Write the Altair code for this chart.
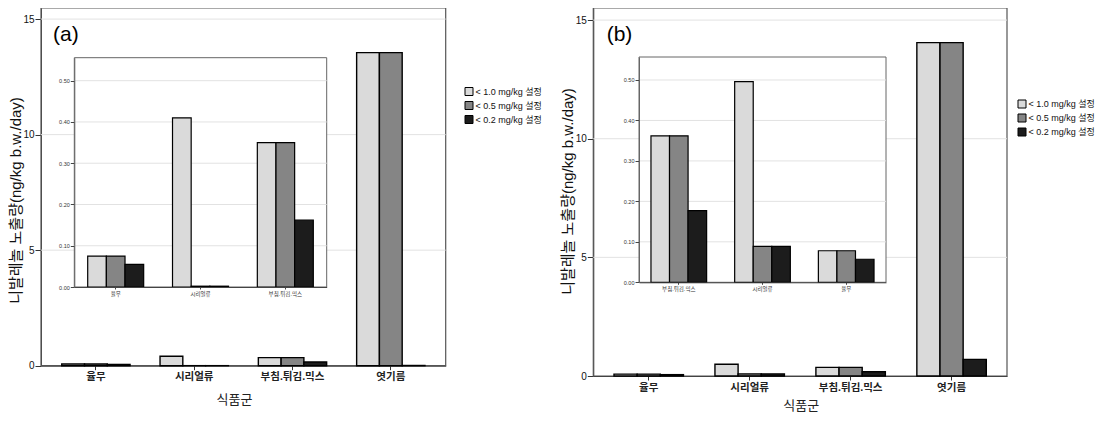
import altair as alt
import pandas as pd

# ---------------- data ----------------
categories = ["율무", "시리얼류", "부침.튀김.믹스", "엿기름"]
series = ["< 1.0 mg/kg 설정", "< 0.5 mg/kg 설정", "< 0.2 mg/kg 설정"]

a_s1 = [0.075, 0.410, 0.350, 13.55]
a_s2 = [0.075, 0.002, 0.350, 13.55]
a_s3 = [0.055, 0.002, 0.162, 0.01]

b_s1 = [0.078, 0.496, 0.362, 14.05]
b_s2 = [0.078, 0.089, 0.362, 14.05]
b_s3 = [0.057, 0.089, 0.177, 0.70]

inset_a_categories = ["율무", "시리얼류", "부침.튀김.믹스"]
inset_b_categories = ["부침.튀김.믹스", "시리얼류", "율무"]

main_ticks = [0, 5, 10, 15]
main_grid = [5, 10, 15]
inset_ticks = [0.0, 0.1, 0.2, 0.3, 0.4, 0.5]
inset_grid = [0.1, 0.2, 0.3, 0.4, 0.5]

panel_labels = ["(a)", "(b)"]
y_title = "니발레놀 노출량(ng/kg b.w./day)"
x_title = "식품군"

colors = ["#dadada", "#858585", "#1c1c1c"]
FONT = "Liberation Sans, Noto Sans CJK KR"


def make_df(s1, s2, s3, cats):
    rows = []
    for vals, s in zip([s1, s2, s3], series):
        for c, v in zip(categories, vals):
            if c in cats:
                rows.append({"cat": c, "series": s, "value": v})
    return pd.DataFrame(rows)


def bars(df, cats, xr, pi, po, ydom, yr, xaxis, yaxis, legend, sw):
    return alt.Chart(df).mark_bar(stroke="black", strokeWidth=sw).encode(
        x=alt.X("cat:N", scale=alt.Scale(domain=cats, range=xr, paddingInner=pi, paddingOuter=po), axis=xaxis),
        xOffset=alt.XOffset("series:N", scale=alt.Scale(domain=series, paddingInner=0, paddingOuter=0)),
        y=alt.Y("value:Q", scale=alt.Scale(domain=ydom, range=yr, nice=False, zero=True), axis=yaxis),
        color=alt.Color("series:N", scale=alt.Scale(domain=series, range=colors), legend=legend),
    )


def rect(x1, x2, y1, y2, stroke, sw, opacity):
    return alt.Chart(pd.DataFrame({"k": [0]})).mark_rect(
        fill="white", fillOpacity=opacity, stroke=stroke, strokeWidth=sw
    ).encode(x=alt.value(x1), x2=alt.value(x2), y=alt.value(y1), y2=alt.value(y2))


def grid(vals, ydom, yr, x1, x2, color):
    return alt.Chart(pd.DataFrame({"t": vals})).mark_rule(color=color, strokeWidth=1).encode(
        y=alt.Y("t:Q", scale=alt.Scale(domain=ydom, range=yr, nice=False), axis=None),
        x=alt.value(x1), x2=alt.value(x2),
    )


def label(text, x, y):
    return alt.Chart(pd.DataFrame({"label": [text]})).mark_text(
        fontSize=21, align="left", baseline="alphabetic", font=FONT, color="black"
    ).encode(text="label:N", x=alt.value(x), y=alt.value(y))


H = 408


def panel(vals, inset_cats, P, lab, legend_pos):
    df_main = make_df(*vals, categories)
    df_inset = make_df(*vals, inset_cats)
    mx1, mx2, my0 = P["mx1"], P["mx2"], P["my0"]
    mdom = [0, P["mtop"]]
    mr = [my0, 0]
    ix1, ix2, iy1, iy0 = P["ix1"], P["ix2"], P["iy1"], P["iy0"]
    idom = [0, P["itop"]]
    ir = [iy0, iy1]

    main_x_axis = alt.Axis(
        orient="bottom", offset=my0 - H, title=x_title, titleX=P["xtx"], titleY=P["xty"],
        titleBaseline="middle", titleAlign="center", titleFontSize=13, titleFontWeight="normal",
        labelFontSize=10.5, labelFontWeight="bold", labelAngle=0, tickSize=4, labelPadding=2, grid=False,
        domainColor="#333", tickColor="#333", labelColor="#222", titleColor="#222",
    )
    main_y_axis = alt.Axis(
        orient="left", offset=-mx1, values=main_ticks, format="d", tickSize=6, labelFontSize=10,
        labelPadding=1, grid=False, domainColor="#444", tickColor="#333", labelColor="#111",
        title=y_title, titleX=P["ytx"] - mx1, titleY=P["yty"], titleAngle=270, titleAlign="center",
        titleBaseline="middle", titleFontSize=15, titleFontWeight="normal", titleColor="#111",
    )
    inset_x_axis = alt.Axis(
        orient="bottom", offset=iy0 - H, title=None, labelFontSize=5.5, labelAngle=0, tickSize=2,
        labelPadding=2, grid=False, domainColor="#444", tickColor="#444", labelColor="#333", zindex=1,
    )
    inset_y_axis = alt.Axis(
        orient="left", offset=-ix1, values=inset_ticks, format=".2f", labelFontSize=5.5, tickSize=4,
        labelPadding=1, title=None, grid=False, domainColor="#666", tickColor="#444", labelColor="#333",
        zindex=1,
    )
    legend = alt.Legend(
        orient="none", legendX=legend_pos[0], legendY=legend_pos[1], title=None, symbolType="square",
        symbolSize=64, symbolStrokeColor="black", symbolStrokeWidth=1, labelFontSize=9,
        rowPadding=1, labelOffset=2, padding=0, labelColor="#111",
    )
    return [
        rect(mx1, mx2, 0, my0, "#555", 1.2, 0),
        grid(main_grid, mdom, mr, mx1, mx2, "#e2e2e2"),
        bars(df_main, categories, [mx1, mx2], P["mpi"], P["mpo"], mdom, mr, main_x_axis, main_y_axis, legend, 1.4),
        rect(ix1, ix2, iy1, iy0, "#666", 1, 1),
        grid(inset_grid, idom, ir, ix1, ix2, "#e2e2e2"),
        bars(df_inset, inset_cats, [ix1, ix2], P["ipi"], P["ipo"], idom, ir, inset_x_axis, inset_y_axis, None, 1.2),
        label(lab, P["lx"], P["ly"]),
    ]


PA = dict(mx1=33, mx2=437.7, my0=357.7, mtop=15.48, mpi=0.305, mpo=0.211,
          ix1=66.3, ix2=318.7, iy1=49.7, iy0=279, itop=0.5557, ipi=0.34, ipo=0.158,
          xtx=226, xty=33.6, ytx=7.7, yty=192, lx=45, ly=33)
PB = dict(mx1=585.3, mx2=999, my0=368, mtop=15.51, mpi=0.312, mpo=0.205,
          ix1=631, ix2=878, iy1=49, iy0=274.3, itop=0.5568, ipi=0.335, ipo=0.143,
          xtx=792.8, xty=29, ytx=559, yty=183, lx=598.7, ly=33)

layers = (panel([a_s1, a_s2, a_s3], inset_a_categories, PA, panel_labels[0], (456.5, 79))
          + panel([b_s1, b_s2, b_s3], inset_b_categories, PB, panel_labels[1], (1009.5, 91.5)))

chart = alt.layer(*layers).resolve_scale(
    x="independent", y="independent", xOffset="independent", color="independent"
).properties(
    width=1095, height=H, padding=0, autosize="none"
).configure(font=FONT).configure_view(stroke=None)

chart.save("out.html", embed_options={"renderer": "svg", "actions": False})
